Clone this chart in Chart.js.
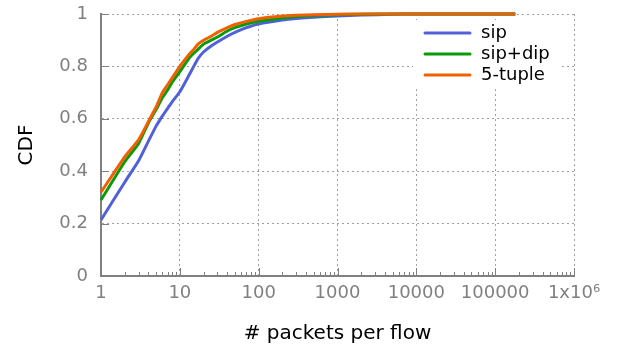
<!DOCTYPE html>
<html>
<head>
<meta charset="utf-8">
<script src="https://cdn.jsdelivr.net/npm/chart.js@4/dist/chart.umd.min.js"></script>
<style>
  body { margin: 0; background: #fff; }
  #wrap { width: 618px; height: 349px; }
</style>
</head>
<body>
<div id="wrap"><canvas id="graf" width="618" height="349"></canvas></div>
<script>
// packets per flow (x) and CDF values
const packets = [1, 2, 3, 4, 5, 6, 7, 8, 10, 13, 15, 17, 20, 25, 30, 40, 50, 70, 100, 200, 300, 500, 1000, 2000, 5000, 10000, 180000];
const cdfSip = [0.214, 0.358, 0.44, 0.515, 0.572, 0.61, 0.64, 0.665, 0.703, 0.765, 0.80, 0.83, 0.855, 0.878, 0.893, 0.915, 0.93, 0.948, 0.962, 0.977, 0.983, 0.988, 0.992, 0.996, 0.999, 1.0, 1.0];
const cdfSipDip = [0.29, 0.436, 0.506, 0.585, 0.635, 0.68, 0.71, 0.74, 0.78, 0.83, 0.85, 0.865, 0.885, 0.90, 0.912, 0.935, 0.948, 0.962, 0.972, 0.985, 0.99, 0.994, 0.997, 0.999, 1.0, 1.0, 1.0];
const cdfTuple = [0.32, 0.455, 0.52, 0.59, 0.645, 0.70, 0.73, 0.756, 0.80, 0.845, 0.865, 0.885, 0.90, 0.915, 0.93, 0.948, 0.96, 0.972, 0.982, 0.992, 0.995, 0.997, 0.999, 1.0, 1.0, 1.0, 1.0];

const seriesNames = ["sip", "sip+dip", "5-tuple"];
const seriesColors = ["#5260d8", "#0a9a0a", "#f06000"];
const yTicks = [0, 0.2, 0.4, 0.6, 0.8, 1];
const decades = [1, 10, 100, 1000, 10000, 100000, 1000000];

const gray = "#808080";
const font = "'DejaVu Sans', sans-serif";

function isDecade(v) {
    return decades.includes(v);
}

// ticks 1..9 in each decade, labels only on decades
function logTicks() {
    const t = [];
    decades.forEach((d, i) => {
        if (i === decades.length - 1) { t.push({ value: d }); return; }
        for (let m = 1; m < 10; m++) t.push({ value: m * d });
    });
    return t;
}

// keep the plot box exactly where layout padding puts it
function noPad(scale) {
    scale.paddingTop = 0;
    scale.paddingBottom = 0;
    scale.paddingLeft = 0;
    scale.paddingRight = 0;
}

// short ticks pointing into the plot, gnuplot style
const innerTicks = {
    id: "innerTicks",
    beforeDatasetsDraw(chart) {
        const { ctx, chartArea, scales } = chart;
        ctx.save();
        ctx.strokeStyle = gray;
        ctx.lineWidth = 1;
        ctx.beginPath();
        scales.x.ticks.forEach(t => {
            const px = Math.round(scales.x.getPixelForValue(t.value)) + 0.5;
            const len = isDecade(t.value) ? 8 : 4;
            ctx.moveTo(px, chartArea.bottom);
            ctx.lineTo(px, chartArea.bottom - len);
        });
        yTicks.forEach(v => {
            const py = Math.round(scales.y.getPixelForValue(v)) + 0.5;
            ctx.moveTo(chartArea.left, py);
            ctx.lineTo(chartArea.left + 8, py);
        });
        ctx.stroke();
        ctx.restore();
    }
};

// legend inside the plot, top right
const innerLegend = {
    id: "innerLegend",
    afterDatasetsDraw(chart) {
        const { ctx } = chart;
        ctx.save();
        ctx.fillStyle = "#fff";
        ctx.fillRect(413, 20, 148, 66);
        ctx.font = "18px " + font;
        ctx.textBaseline = "middle";
        chart.data.datasets.forEach((ds, i) => {
            const y = 33 + i * 21;
            ctx.strokeStyle = ds.borderColor;
            ctx.lineWidth = 3;
            ctx.lineCap = "round";
            ctx.beginPath();
            ctx.moveTo(425, y);
            ctx.lineTo(470, y);
            ctx.stroke();
            ctx.fillStyle = "#000";
            ctx.fillText(ds.label, 481, y);
        });
        ctx.restore();
    }
};

const datasets = [cdfSip, cdfSipDip, cdfTuple].map((vals, i) => ({
    label: seriesNames[i],
    data: packets.map((x, j) => ({ x: x, y: vals[j] })),
    borderColor: seriesColors[i],
    backgroundColor: seriesColors[i],
    borderWidth: 3,
    borderJoinStyle: "round",
    pointRadius: 0,
    fill: false,
    clip: 4,
    tension: 0.15,
    order: 2 - i
}));

new Chart(document.getElementById("graf"), {
    type: "line",
    data: { datasets },
    options: {
        responsive: false,
        animation: false,
        layout: { padding: { top: 14, right: 44, left: 0, bottom: 0 } },
        plugins: {
            legend: { display: false },
            tooltip: { enabled: false }
        },
        scales: {
            x: {
                type: "logarithmic",
                min: 1,
                max: 1000000,
                afterBuildTicks: scale => { scale.ticks = logTicks(); },
                afterFit: scale => { scale.height = 73; noPad(scale); },
                ticks: {
                    autoSkip: false,
                    maxRotation: 0,
                    padding: 7,
                    color: gray,
                    font: { family: font, size: 18 },
                    callback: v => {
                        if (v === 1000000) return "1x10\u2076";
                        return isDecade(v) ? String(v) : "";
                    }
                },
                grid: {
                    drawTicks: false,
                    color: c => (c.tick && isDecade(c.tick.value)) ? "#a0a0a0" : "rgba(0,0,0,0)",
                    lineWidth: 1
                },
                border: { color: gray, width: 2, dash: [2, 3] },
                title: {
                    display: true,
                    text: "# packets per flow",
                    color: "#000",
                    font: { family: font, size: 20 },
                    padding: { top: 0, bottom: 3 }
                }
            },
            y: {
                min: 0,
                max: 1,
                afterBuildTicks: scale => { scale.ticks = yTicks.map(v => ({ value: v })); },
                afterFit: scale => { scale.width = 101; noPad(scale); },
                ticks: {
                    padding: 13,
                    color: gray,
                    font: { family: font, size: 18 },
                    callback: v => String(Number(v.toFixed(1)))
                },
                grid: {
                    drawTicks: false,
                    color: "#a0a0a0",
                    lineWidth: 1
                },
                border: { color: gray, width: 2, dash: [2, 3] },
                title: {
                    display: true,
                    text: "CDF",
                    color: "#000",
                    font: { family: font, size: 20 },
                    padding: { top: 15, bottom: 0 }
                }
            }
        }
    },
    plugins: [innerTicks, innerLegend]
});
</script>
</body>
</html>
